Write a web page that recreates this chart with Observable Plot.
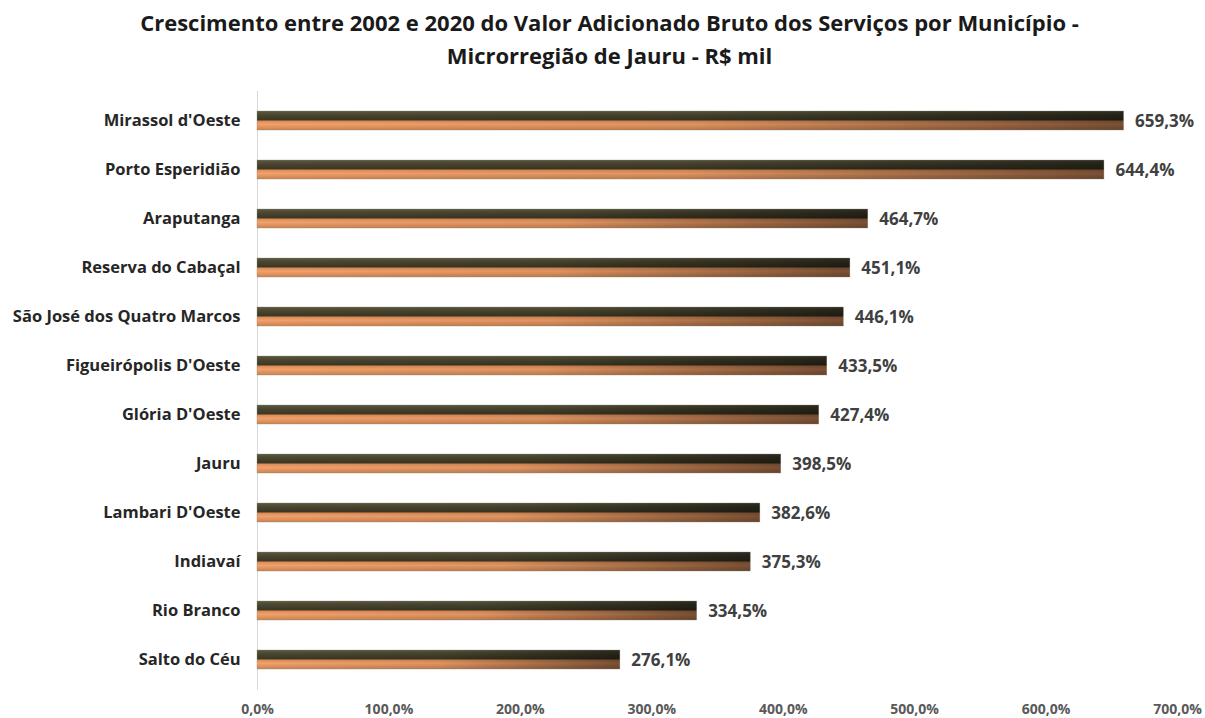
<!DOCTYPE html>
<html><head><meta charset="utf-8">
<script src="https://cdn.jsdelivr.net/npm/d3@7"></script>
<script src="https://cdn.jsdelivr.net/npm/@observablehq/plot@0.6"></script>
<style>
body{margin:0;background:#fff;font-family:"Open Sans",sans-serif;}
#title{height:85px;box-sizing:border-box;padding-top:6px;text-align:center;font-weight:bold;font-size:22px;line-height:33px;color:#1a1a1a;padding-left:14px;}
</style></head><body>
<div id="title">Crescimento entre 2002 e 2020 do Valor Adicionado Bruto dos Serviços por Município -<br>Microrregião de Jauru - R$ mil</div>
<div id="chart"></div>
<script>
const municipios = ["Mirassol d'Oeste","Porto Esperidião","Araputanga","Reserva do Cabaçal","São José dos Quatro Marcos","Figueirópolis D'Oeste","Glória D'Oeste","Jauru","Lambari D'Oeste","Indiavaí","Rio Branco","Salto do Céu"];
const crescimento = [659.3,644.4,464.7,451.1,446.1,433.5,427.4,398.5,382.6,375.3,334.5,276.1];
const xTicks = [0,100,200,300,400,500,600,700];
const data = municipios.map((m,i)=>({m, v: crescimento[i]}));
const fmt = v => v.toFixed(1).replace(".", ",") + "%";

const plot = Plot.plot({
  width: 1205, height: 633,
  marginLeft: 257, marginRight: 28, marginTop: 6, marginBottom: 28,
  style: {fontFamily: "'Open Sans', sans-serif", background: "#fff"},
  x: {domain: [0, 700], axis: null},
  y: {domain: municipios, axis: null, paddingInner: 0.61, paddingOuter: 0.305},
  marks: [
    Plot.ruleX([0], {stroke: "#d9d9d9", strokeWidth: 1}),
    Plot.barX(data, {y: "m", x: "v", fill: "url(#gv)"}),
    Plot.barX(data, {y: "m", x: "v", fill: "url(#gh)", stroke: "#8a8a80", strokeWidth: 0.6, strokeOpacity: 0.6}),
    Plot.text(data, {y: "m", x: "v", text: d => fmt(d.v), textAnchor: "start", dx: 11, dy: 1, fontSize: 17, fontWeight: "bold", fill: "#404040"}),
    Plot.axisY({tickSize: 0, tickPadding: 17, fontSize: 16.5, fontWeight: "bold", color: "#262626", label: null}),
    Plot.axisX(xTicks, {tickSize: 0, tickPadding: 14, fontSize: 14, fontWeight: "bold", color: "#595959", tickFormat: fmt, label: null})
  ]
});
const defs = `<defs>
<linearGradient id="gv" x1="0" y1="0" x2="0" y2="1">
<stop offset="0" stop-color="#5e5a40"/>
<stop offset="0.2" stop-color="#4a4630"/>
<stop offset="0.48" stop-color="#3a3622"/>
<stop offset="0.52" stop-color="#dc8b56"/>
<stop offset="0.7" stop-color="#f2a26c"/>
<stop offset="1" stop-color="#cc824f"/>
</linearGradient>
<linearGradient id="gh" x1="0" y1="0" x2="1" y2="0">
<stop offset="0" stop-color="#000" stop-opacity="0"/>
<stop offset="0.5" stop-color="#000" stop-opacity="0.08"/>
<stop offset="1" stop-color="#000" stop-opacity="0.5"/>
</linearGradient></defs>`;
plot.insertAdjacentHTML("afterbegin", defs);
document.getElementById("chart").appendChild(plot);
</script></body></html>
